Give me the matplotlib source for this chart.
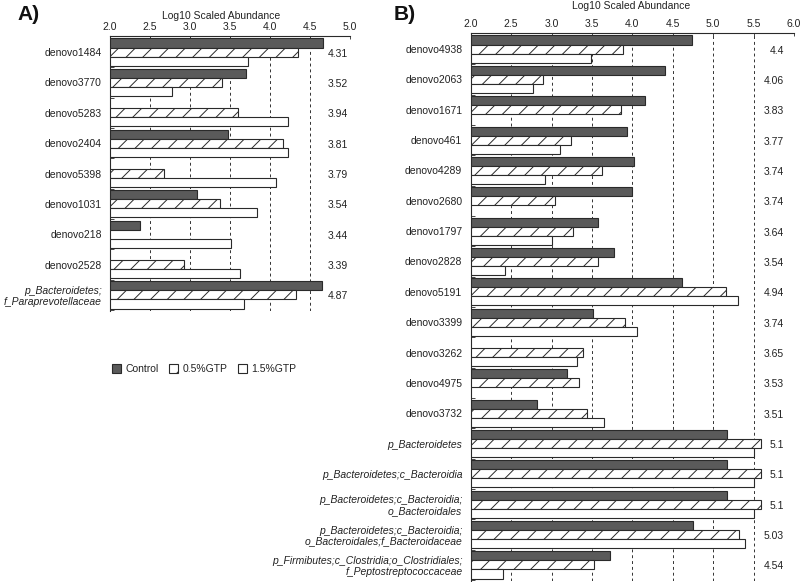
import matplotlib
matplotlib.use('Agg')
import matplotlib.pyplot as plt
from matplotlib.patches import Patch
import numpy as np

plt.rcParams['font.family'] = ['Liberation Sans', 'DejaVu Sans']
plt.rcParams['hatch.linewidth'] = 0.7

nan = np.nan
series_names = ['Control', '0.5%GTP', '1.5%GTP']

# ---------- Panel A data ----------
a_labels = ['denovo1484', 'denovo3770', 'denovo5283', 'denovo2404', 'denovo5398',
            'denovo1031', 'denovo218', 'denovo2528',
            'p_Bacteroidetes;\nf_Paraprevotellaceae']
a_control = [4.66, 3.70, nan, 3.48, nan, 3.09, 2.375, nan, 4.65]
a_gtp05 = [4.35, 3.40, 3.60, 4.16, 2.68, 3.38, nan, 2.93, 4.33]
a_gtp15 = [3.72, 2.78, 4.22, 4.22, 4.07, 3.84, 3.51, 3.62, 3.68]
a_values = ['4.31', '3.52', '3.94', '3.81', '3.79', '3.54', '3.44', '3.39', '4.87']
a_ticks = [2.0, 2.5, 3.0, 3.5, 4.0, 4.5, 5.0]

# ---------- Panel B data ----------
b_labels = ['denovo4938', 'denovo2063', 'denovo1671', 'denovo461', 'denovo4289',
            'denovo2680', 'denovo1797', 'denovo2828', 'denovo5191', 'denovo3399',
            'denovo3262', 'denovo4975', 'denovo3732',
            'p_Bacteroidetes',
            'p_Bacteroidetes;c_Bacteroidia',
            'p_Bacteroidetes;c_Bacteroidia;\no_Bacteroidales',
            'p_Bacteroidetes;c_Bacteroidia;\no_Bacteroidales;f_Bacteroidaceae',
            'p_Firmibutes;c_Clostridia;o_Clostridiales;\nf_Peptostreptococcaceae']
b_control = [4.735, 4.40, 4.16, 3.94, 4.02, 4.00, 3.57, 3.77, 4.62, 3.51,
             nan, 3.19, 2.82, 5.17, 5.17, 5.17, 4.755, 3.73]
b_gtp05 = [3.89, 2.90, 3.86, 3.24, 3.63, 3.04, 3.26, 3.57, 5.155, 3.91,
           3.39, 3.34, 3.44, 5.59, 5.59, 5.59, 5.325, 3.53]
b_gtp15 = [3.485, 2.775, nan, 3.105, 2.92, nan, 3.00, 2.42, 5.31, 4.06,
           3.32, nan, 3.65, 5.50, 5.50, 5.50, 5.40, 2.40]
b_values = ['4.4', '4.06', '3.83', '3.77', '3.74', '3.74', '3.64', '3.54', '4.94',
            '3.74', '3.65', '3.53', '3.51', '5.1', '5.1', '5.1', '5.03', '4.54']
b_ticks = [2.0, 2.5, 3.0, 3.5, 4.0, 4.5, 5.0, 5.5, 6.0]

CTRL = '#5a5a5a'
EDGE = '#2a2a2a'
TXT = '#222222'
FS = 7.5
BH = 0.3

W, H = 800, 582
fig = plt.figure(figsize=(W / 100, H / 100), dpi=100)


def draw_panel(ax, labels, ctrl, g05, g15, vals, ticks, xmax, val_x, pxper):
    n = len(labels)
    base = 2.0
    styles = [dict(color=CTRL, hatch=None), dict(color='white', hatch='//'),
              dict(color='white', hatch=None)]
    for k, series in enumerate([ctrl, g05, g15]):
        for i, v in enumerate(series):
            if v is None or np.isnan(v):
                continue
            ax.barh(i + (k - 1) * BH, v - base, left=base, height=BH,
                    color=styles[k]['color'], hatch=styles[k]['hatch'],
                    edgecolor=EDGE, linewidth=0.8, zorder=3)
    for i, t in enumerate(vals):
        ax.text(val_x, i + 0.05, t, ha='right', va='center', fontsize=FS,
                color=TXT, zorder=4)
    ax.set_xlim(base, xmax)
    top = -0.45 - 2.5 / pxper
    bot = n - 1 + 0.45 + 2.5 / pxper
    ax.set_ylim(bot, top)
    ax.xaxis.tick_top()
    ax.set_xticks(ticks)
    ax.set_xticklabels([f'{t:.1f}' for t in ticks])
    ax.tick_params(axis='x', direction='in', length=2, width=0.6, pad=3,
                   labelsize=FS, labelcolor=TXT, color=EDGE)
    ax.set_yticks(range(n))
    ax.set_yticklabels(labels)
    ax.tick_params(axis='y', which='major', length=0, pad=6, labelsize=FS,
                   labelcolor=TXT)
    ax.set_yticks(np.arange(n) + 0.5, minor=True)
    ax.tick_params(axis='y', which='minor', direction='in', length=3,
                   width=0.6, color=EDGE)
    for lab in ax.get_yticklabels():
        if lab.get_text().startswith('p_'):
            lab.set_fontstyle('italic')
        lab.set_linespacing(1.1)
    ax.grid(axis='x', linestyle=(0, (3, 3)), color='#333333', linewidth=0.7,
            zorder=1)
    ax.set_axisbelow(True)
    for s in ['right', 'bottom']:
        ax.spines[s].set_visible(False)
    for s in ['top', 'left']:
        ax.spines[s].set_color(EDGE)
        ax.spines[s].set_linewidth(0.8)


# Panel A
axA = fig.add_axes([110 / W, 1 - 311 / H, 240 / W, (311 - 36) / H])
draw_panel(axA, a_labels, a_control, a_gtp05, a_gtp15, a_values, a_ticks,
           5.0, 4.975, 30.4)

# Panel B
axB = fig.add_axes([470.7 / W, 1 - 581 / H, 323.2 / W, (581 - 33) / H])
draw_panel(axB, b_labels, b_control, b_gtp05, b_gtp15, b_values, b_ticks,
           6.0, 5.877, 30.34)

fig.text(221.5 / W, 1 - 16 / H, 'Log10 Scaled Abundance', ha='center',
         va='center', fontsize=FS, color=TXT)
fig.text(631 / W, 1 - 6 / H, 'Log10 Scaled Abundance', ha='center',
         va='center', fontsize=FS, color=TXT)
fig.text(17 / W, 1 - 15 / H, 'A)', ha='left', va='center', fontsize=15,
         fontweight='bold', color='#111111')
fig.text(394 / W, 1 - 15 / H, 'B)', ha='left', va='center', fontsize=15,
         fontweight='bold', color='#111111')

handles = [Patch(facecolor=CTRL, edgecolor=EDGE, linewidth=0.8, label=series_names[0]),
           Patch(facecolor='white', edgecolor=EDGE, linewidth=0.8, hatch='//',
                 label=series_names[1]),
           Patch(facecolor='white', edgecolor=EDGE, linewidth=0.8, label=series_names[2])]
leg = fig.legend(handles=handles, loc='center', bbox_to_anchor=(204 / W, 1 - 369 / H),
                 ncol=3, frameon=False, handlelength=0.9, handleheight=0.9,
                 handletextpad=0.4, columnspacing=1.0, fontsize=FS)
for t in leg.get_texts():
    t.set_color(TXT)

fig.savefig('out.png', dpi=100)
